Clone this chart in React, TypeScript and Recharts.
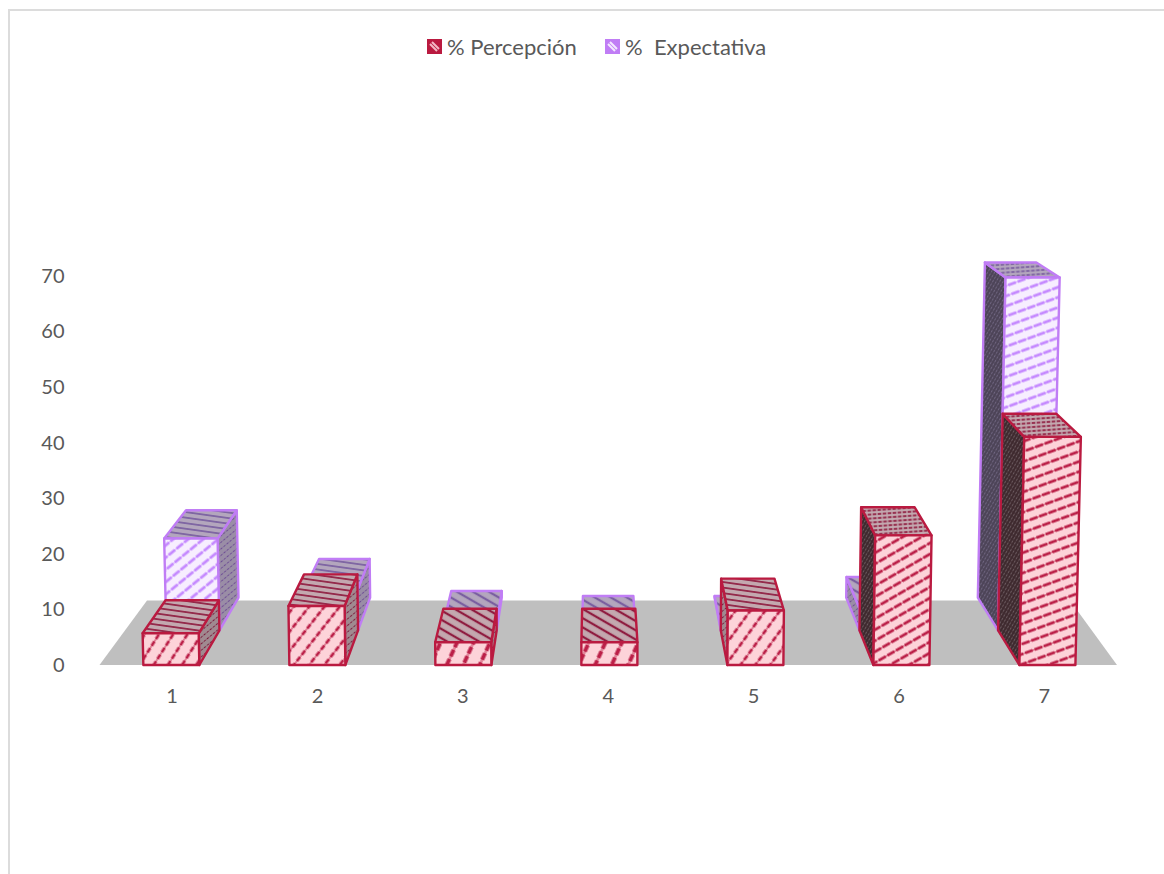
import { BarChart, Bar, XAxis, YAxis, ReferenceArea, Legend } from 'recharts'

const categories = ['1', '2', '3', '4', '5', '6', '7']
const percepcion = [5.7, 10.6, 4.1, 4.1, 9.8, 23.3, 41]
const expectativa = [17.4, 7.7, 1.3, 0.3, 0.3, 4.1, 66.8]
const yTicks = [0, 10, 20, 30, 40, 50, 60, 70]
const floorDepth = 11.6

const rows = categories.map((name, i) => ({
  name,
  percepcion: percepcion[i],
  expectativa: expectativa[i]
}))

const RED = '#ba1a40'
const PURPLE = '#c07df5'
const TEXT = '#595959'
const FONT = 'Lato, "Open Sans", sans-serif'

// vanishing point and depth factors of the 3D projection
const VX = 597
const VY = -20
const ROW_DEPTH = 0.9495
const LEAN = 5e-5
const SPREAD = 0.0045

const palette = {
  percepcion: {
    edge: RED,
    front: ['#fdd3d9', '#bb2048'],
    top: ['#c3a8af', '#8f1c40'],
    sideShort: ['#a08a90', '#7d2040'],
    sideTall: ['#3f2a2f', '#6b5a5f']
  },
  expectativa: {
    edge: PURPLE,
    front: ['#f7eeff', '#c58aff'],
    top: ['#b3a6bd', '#7a5fa0'],
    sideShort: ['#9a8da6', '#6f4f95'],
    sideTall: ['#4d4458', '#6f6580']
  }
}

type SeriesKey = keyof typeof palette

function Hatch({ id, colors, angle, gap, thick, dash }: {
  id: string
  colors: string[]
  angle: number
  gap: number
  thick: number
  dash: number[]
}) {
  const tile = dash[0] + dash[1]
  return (
    <pattern
      id={id}
      patternUnits="userSpaceOnUse"
      width={tile}
      height={gap}
      patternTransform={`rotate(${-angle})`}
    >
      <rect width={tile} height={gap} fill={colors[0]} />
      {/* fainter continuous line under the beads */}
      <line x1={0} x2={tile} y1={gap / 2} y2={gap / 2} stroke={colors[1]} strokeOpacity={0.45} strokeWidth={thick * 0.7} />
      <line
        x1={0}
        x2={tile}
        y1={gap / 2}
        y2={gap / 2}
        stroke={colors[1]}
        strokeWidth={thick}
        strokeDasharray={dash.join(' ')}
      />
    </pattern>
  )
}

const toPoints = (pts: number[][]) => pts.map(p => p.join(',')).join(' ')

function project(px: number, py: number, s: number) {
  return [VX + (px - VX) * s, VY + (py - VY) * s]
}

function stripeAngle(h: number) {
  const rise = h < 40 ? 50 : 75
  return Math.max(20, (Math.atan(rise / Math.max(h, 1)) * 180) / Math.PI)
}

// one cuboid: front face from the bar rectangle, top and side faces pushed back towards the vanishing point
function Box({ x, y, width, height, index, series, row }: any) {
  const colors = palette[series as SeriesKey]
  const near = row === 0 ? 1 : ROW_DEPTH
  const far = near * ROW_DEPTH
  const cx = x + width / 2
  const left = cx + (cx - 430) * SPREAD - width / 2
  const right = left + width
  const base = y + height
  const lean = (px: number) => px + (px - VX) * LEAN * height

  const nbl = project(left, base, near)
  const nbr = project(right, base, near)
  const ntl = project(lean(left), y, near)
  const ntr = project(lean(right), y, near)
  const fbl = project(left, base, far)
  const fbr = project(right, base, far)
  const ftl = project(lean(left), y, far)
  const ftr = project(lean(right), y, far)

  const h = nbl[1] - ntl[1]
  const tall = h > 100
  const squat = h < 28
  const id = `${series}-${index}`
  const stroke = { stroke: colors.edge, strokeWidth: 2.4, strokeLinejoin: 'round' as const }

  return (
    <g>
      <defs>
        <Hatch
          id={`${id}-front`}
          colors={colors.front}
          angle={stripeAngle(h)}
          gap={squat ? 15 : h < 70 ? 12 : 9.5}
          thick={squat ? 4 : 2.8}
          dash={squat ? [7, 3] : h < 70 ? [5, 3] : [8, 2]}
        />
        <Hatch
          id={`${id}-top`}
          colors={colors.top}
          angle={tall ? 4 : squat ? -30 : -8}
          gap={tall ? 4 : squat ? 8 : 5.5}
          thick={squat ? 2.3 : 1.6}
          dash={tall ? [3, 2] : [12, 0]}
        />
        <Hatch
          id={`${id}-side`}
          colors={tall ? colors.sideTall : colors.sideShort}
          angle={tall ? 60 : 40}
          gap={tall ? 3 : 5}
          thick={1}
          dash={[2, 2]}
        />
      </defs>
      {fbl[0] < nbl[0] - 1 && (
        <polygon points={toPoints([ntl, ftl, fbl, nbl])} fill={`url(#${id}-side)`} {...stroke} />
      )}
      {fbr[0] > nbr[0] + 1 && (
        <polygon points={toPoints([ntr, ftr, fbr, nbr])} fill={`url(#${id}-side)`} {...stroke} />
      )}
      <polygon points={toPoints([ntl, ntr, ftr, ftl])} fill={`url(#${id}-top)`} {...stroke} />
      <polygon points={toPoints([nbl, nbr, ntr, ntl])} fill={`url(#${id}-front)`} {...stroke} />
    </g>
  )
}

function Floor({ x, y, width, height }: any) {
  const points = [
    [x, y + height],
    [x + width, y + height],
    [x + width - 47, y],
    [x + 47.5, y]
  ]
  return <polygon points={toPoints(points)} fill="#bfbfbf" />
}

function Swatch({ color, bg }: { color: string; bg: string }) {
  return (
    <svg width={15} height={15} style={{ display: 'block' }}>
      <rect x={1} y={1} width={13} height={13} fill={color} stroke={color} strokeWidth={2} />
      <path d="M3 5 L10 12 M5 3 L12 10" stroke={bg} strokeWidth={2} />
    </svg>
  )
}

function ChartLegend() {
  const item = {
    position: 'absolute' as const,
    display: 'flex',
    alignItems: 'center',
    whiteSpace: 'pre' as const,
    fontSize: 22,
    fontFamily: FONT,
    color: TEXT
  }
  return (
    <div style={{ position: 'relative', height: 26 }}>
      <div style={{ ...item, left: 427, gap: 5 }}>
        <Swatch color={RED} bg="#f3b8c4" />
        <span>% Percepción</span>
      </div>
      <div style={{ ...item, left: 605, gap: 5 }}>
        <Swatch color={PURPLE} bg="#f3e8ff" />
        <span>%  Expectativa</span>
      </div>
    </div>
  )
}

export default function App() {
  return (
    <div style={{ position: 'fixed', inset: 0, background: '#fff', overflow: 'hidden' }}>
      <div
        style={{
          position: 'absolute',
          left: 8,
          top: 9,
          width: 1164,
          height: 874,
          borderTop: '2px solid #dcdcdc',
          borderLeft: '2px solid #dcdcdc'
        }}
      />
      <div style={{ position: 'absolute', left: 0, top: 0 }}>
        <BarChart
          width={1164}
          height={874}
          data={rows}
          barGap={-56}
          barSize={56}
          margin={{ top: 275.5, right: 47, bottom: 179, left: 0 }}
          style={{ fontFamily: FONT }}
        >
          <XAxis
            dataKey="name"
            axisLine={false}
            tickLine={false}
            height={30}
            tickMargin={18}
            tick={{ fontSize: 20, fill: TEXT }}
          />
          <YAxis
            domain={[0, 70]}
            ticks={yTicks}
            width={99.5}
            axisLine={false}
            tickLine={false}
            tickMargin={29}
            tick={{ fontSize: 20, fill: TEXT }}
          />
          <Legend
            verticalAlign="middle"
            align="center"
            content={<ChartLegend />}
            wrapperStyle={{ top: 33, left: 0, width: 1164 }}
          />
          <ReferenceArea y1={0} y2={floorDepth} shape={<Floor />} />
          <Bar
            dataKey="expectativa"
            isAnimationActive={false}
            shape={(p: any) => <Box {...p} series="expectativa" row={1} />}
          />
          <Bar
            dataKey="percepcion"
            isAnimationActive={false}
            shape={(p: any) => <Box {...p} series="percepcion" row={0} />}
          />
        </BarChart>
      </div>
    </div>
  )
}
